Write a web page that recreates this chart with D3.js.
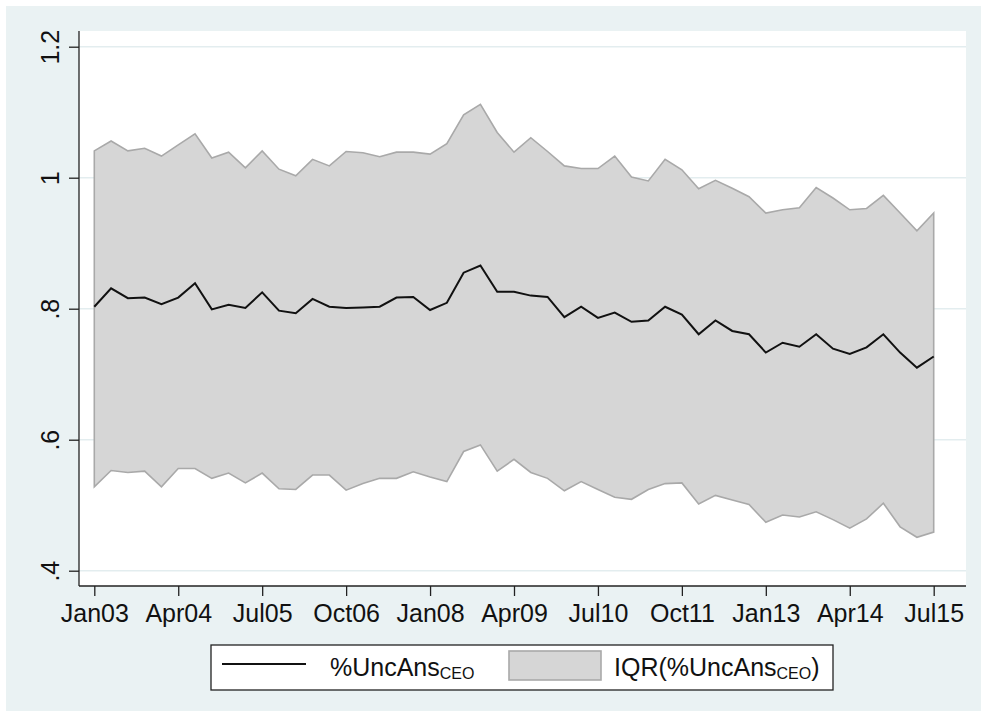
<!DOCTYPE html>
<html>
<head>
<meta charset="utf-8">
<script src="https://cdn.jsdelivr.net/npm/d3@7"></script>
<style>
  html, body { margin: 0; padding: 0; background: #ffffff; }
  svg { display: block; font-family: "Liberation Sans", Arial, sans-serif; }
</style>
</head>
<body>
<svg id="chart" width="981" height="717"></svg>
<script>
// Quarterly periods Jan03 .. Jul15 (51 quarters)
const nQuarters = 51;

// Mean %UncAns_CEO
const meanValues = [
  0.803, 0.831, 0.816, 0.817, 0.807, 0.817, 0.839, 0.799, 0.806, 0.801,
  0.825, 0.797, 0.793, 0.815, 0.803, 0.801, 0.802, 0.803, 0.817, 0.818,
  0.798, 0.809, 0.855, 0.866, 0.826, 0.826, 0.820, 0.818, 0.787, 0.803,
  0.786, 0.794, 0.780, 0.782, 0.803, 0.791, 0.761, 0.782, 0.766, 0.761,
  0.733, 0.748, 0.742, 0.761, 0.739, 0.731, 0.741, 0.761, 0.733, 0.710,
  0.727
];

// IQR upper bound (75th percentile)
const upperValues = [
  1.041, 1.056, 1.041, 1.045, 1.033, 1.050, 1.067, 1.030, 1.039, 1.015,
  1.041, 1.013, 1.003, 1.028, 1.018, 1.040, 1.038, 1.032, 1.039, 1.039,
  1.036, 1.052, 1.096, 1.112, 1.069, 1.039, 1.061, 1.040, 1.018, 1.014,
  1.014, 1.033, 1.001, 0.995, 1.028, 1.012, 0.983, 0.996, 0.984, 0.971,
  0.946, 0.951, 0.954, 0.985, 0.969, 0.951, 0.953, 0.973, 0.946, 0.919,
  0.946
];

// IQR lower bound (25th percentile)
const lowerValues = [
  0.528, 0.553, 0.550, 0.552, 0.528, 0.556, 0.556, 0.541, 0.549, 0.534,
  0.549, 0.525, 0.524, 0.546, 0.546, 0.523, 0.533, 0.541, 0.541, 0.551,
  0.543, 0.536, 0.582, 0.592, 0.552, 0.570, 0.550, 0.541, 0.522, 0.536,
  0.524, 0.512, 0.509, 0.524, 0.533, 0.534, 0.502, 0.515, 0.508, 0.501,
  0.474, 0.485, 0.482, 0.490, 0.478, 0.465, 0.479, 0.503, 0.467, 0.451,
  0.459
];

// Axis ticks
const xTickIndex = [0, 5, 10, 15, 20, 25, 30, 35, 40, 45, 50];
const xTickLabels = ["Jan03", "Apr04", "Jul05", "Oct06", "Jan08", "Apr09",
                     "Jul10", "Oct11", "Jan13", "Apr14", "Jul15"];
const yTickValues = [0.4, 0.6, 0.8, 1.0, 1.2];
const yTickLabels = [".4", ".6", ".8", "1", "1.2"];

const data = d3.range(nQuarters).map(i => ({
  i, mean: meanValues[i], lo: lowerValues[i], hi: upperValues[i]
}));

const svg = d3.select("#chart");
const W = 981, H = 717;

// Graph region background
svg.append("rect").attr("x", 6).attr("y", 6).attr("width", W - 6).attr("height", H - 12)
  .attr("fill", "#eaf2f3");

// Plot region
const plot = { left: 79, right: 966, top: 31, bottom: 586 };
svg.append("rect").attr("x", plot.left).attr("y", plot.top)
  .attr("width", plot.right - plot.left).attr("height", plot.bottom - plot.top)
  .attr("fill", "#ffffff");

const x = d3.scaleLinear().domain([0, nQuarters - 1]).range([94.3, 933.7]);
const y = d3.scaleLinear().domain([0.4, 1.2]).range([570.7, 46.7]);

// Gridlines
svg.append("g").selectAll("line").data(yTickValues).join("line")
  .attr("x1", plot.left).attr("x2", plot.right)
  .attr("y1", d => y(d)).attr("y2", d => y(d))
  .attr("stroke", "#e3edef").attr("stroke-width", 1.5);

// IQR band
const area = d3.area().x(d => x(d.i)).y0(d => y(d.lo)).y1(d => y(d.hi));
svg.append("path")
  .attr("d", area(data) + "Z")
  .attr("fill", "#d6d6d6").attr("stroke", "#a9a9a9").attr("stroke-width", 1.6)
  .attr("stroke-linejoin", "miter");

// Mean line
const line = d3.line().x(d => x(d.i)).y(d => y(d.mean));
svg.append("path").datum(data).attr("d", line)
  .attr("fill", "none").attr("stroke", "#111111").attr("stroke-width", 2)
  .attr("stroke-linejoin", "miter");

// X axis
const xAxis = d3.axisBottom(x).tickValues(xTickIndex)
  .tickFormat((d, k) => xTickLabels[k]).tickSize(10).tickSizeOuter(0).tickPadding(8);
const gx = svg.append("g").attr("transform", `translate(0,${plot.bottom})`).call(xAxis);
gx.select(".domain").attr("d", `M${plot.left},0H${plot.right}`).attr("stroke", "#222").attr("stroke-width", 1.3);
gx.selectAll(".tick line").attr("stroke", "#222").attr("stroke-width", 1.3);
gx.selectAll(".tick text").attr("font-size", 25).attr("fill", "#111")
  .attr("font-family", "Liberation Sans, Arial, sans-serif");

// Y axis
const yAxis = d3.axisLeft(y).tickValues(yTickValues)
  .tickFormat((d, k) => yTickLabels[k]).tickSize(10).tickSizeOuter(0).tickPadding(10);
const gy = svg.append("g").attr("transform", `translate(${plot.left},0)`).call(yAxis);
gy.select(".domain").attr("d", `M0,${plot.top}V${plot.bottom}`).attr("stroke", "#222").attr("stroke-width", 1.3);
gy.selectAll(".tick line").attr("stroke", "#222").attr("stroke-width", 1.3);
gy.selectAll(".tick text")
  .attr("font-size", 25).attr("fill", "#111")
  .attr("font-family", "Liberation Sans, Arial, sans-serif")
  .attr("x", null).attr("dy", null)
  .attr("text-anchor", "middle")
  .attr("transform", "translate(-20,0) rotate(-90)");

// Legend
const lg = svg.append("g");
lg.append("rect").attr("x", 211).attr("y", 645).attr("width", 622).attr("height", 45)
  .attr("fill", "#ffffff").attr("stroke", "#222").attr("stroke-width", 1.3);
lg.append("line").attr("x1", 222).attr("x2", 306).attr("y1", 664).attr("y2", 664)
  .attr("stroke", "#111").attr("stroke-width", 2);
const t1 = lg.append("text").attr("x", 330).attr("y", 676).attr("font-size", 25).attr("fill", "#111");
t1.append("tspan").text("%UncAns");
t1.append("tspan").attr("font-size", 16).attr("dy", 3).text("CEO");
lg.append("rect").attr("x", 509).attr("y", 651).attr("width", 92).attr("height", 29)
  .attr("fill", "#d6d6d6").attr("stroke", "#a9a9a9").attr("stroke-width", 1.6);
const t2 = lg.append("text").attr("x", 614).attr("y", 676).attr("font-size", 25).attr("fill", "#111");
t2.append("tspan").text("IQR(%UncAns");
t2.append("tspan").attr("font-size", 16).attr("dy", 3).text("CEO");
t2.append("tspan").attr("dy", -3).text(")");
</script>
</body>
</html>
